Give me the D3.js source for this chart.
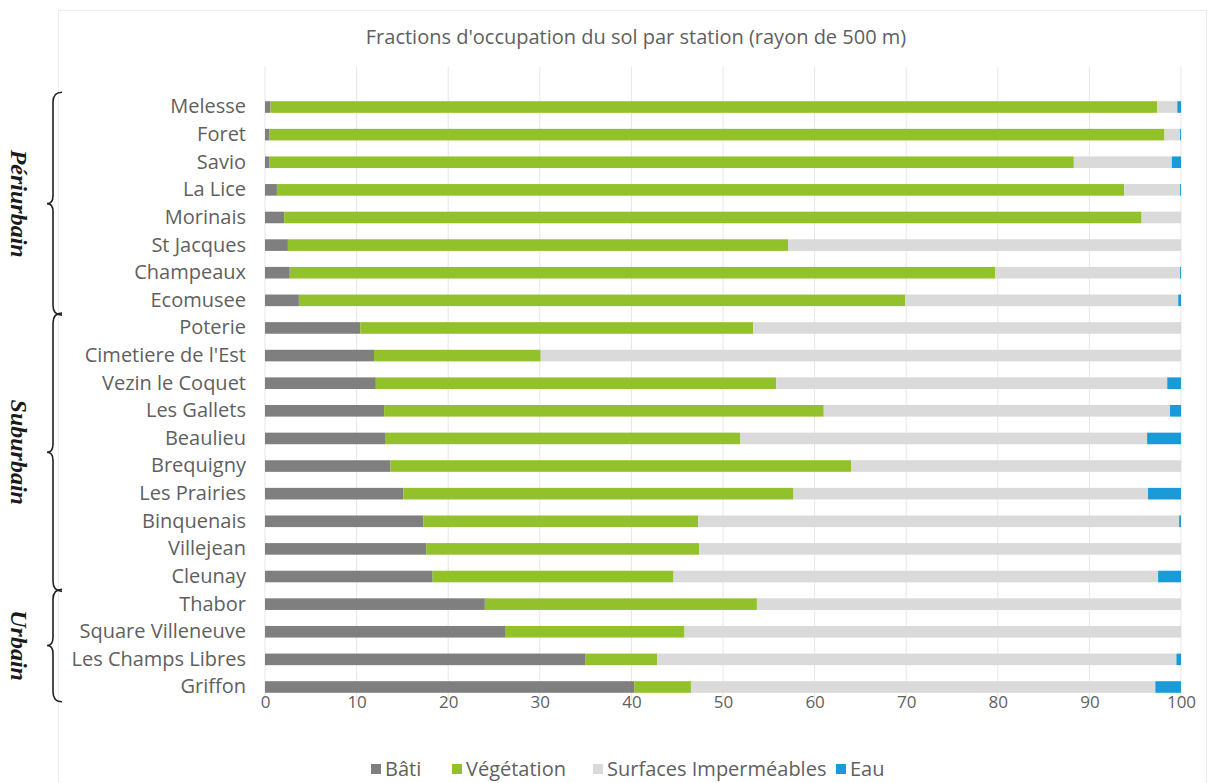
<!DOCTYPE html>
<html>
<head>
<meta charset="utf-8">
<script src="https://cdn.jsdelivr.net/npm/d3@7"></script>
<style>
body { margin: 0; background: #fff; }
text { font-family: "Open Sans", Lato, sans-serif; fill: #5f5f5f; }
</style>
</head>
<body>
<div id="chart"></div>
<script>
// stations, top to bottom
var stations = ["Melesse", "Foret", "Savio", "La Lice", "Morinais", "St Jacques", "Champeaux", "Ecomusee",
  "Poterie", "Cimetiere de l'Est", "Vezin le Coquet", "Les Gallets", "Beaulieu", "Brequigny", "Les Prairies",
  "Binquenais", "Villejean", "Cleunay", "Thabor", "Square Villeneuve", "Les Champs Libres", "Griffon"];

// fractions (%)
var bati = [0.6, 0.5, 0.5, 1.3, 2.1, 2.5, 2.7, 3.7, 10.4, 11.9, 12.1, 13.0, 13.1, 13.7, 15.1, 17.3, 17.6, 18.3, 24.0, 26.2, 35.0, 40.3];
var vegetation = [96.8, 97.7, 87.8, 92.5, 93.6, 54.6, 77.0, 66.2, 42.9, 18.2, 43.7, 48.0, 38.8, 50.3, 42.6, 30.0, 29.8, 26.3, 29.7, 19.6, 7.8, 6.2];
var impermeable = [2.2, 1.7, 10.7, 6.1, 4.3, 42.9, 20.2, 29.8, 46.7, 69.9, 42.7, 37.8, 44.4, 36.0, 38.7, 52.5, 52.6, 52.9, 46.3, 54.2, 56.7, 50.7];
var eau = [0.4, 0.1, 1.0, 0.1, 0, 0, 0.1, 0.3, 0, 0, 1.5, 1.2, 3.7, 0, 3.6, 0.2, 0, 2.5, 0, 0, 0.5, 2.8];

var seriesNames = ["Bâti", "Végétation", "Surfaces Imperméables", "Eau"];
var seriesColors = ["#7f7f7f", "#92c12b", "#dadada", "#1a9bd7"];
var xTicks = [0, 10, 20, 30, 40, 50, 60, 70, 80, 90, 100];

// groups of stations with braces
var groups = [
  {name: "Périurbain", first: "Melesse", last: "Ecomusee"},
  {name: "Suburbain", first: "Poterie", last: "Cleunay"},
  {name: "Urbain", first: "Thabor", last: "Griffon"}
];

var svgWidth = 1214;
var svgHeight = 783;

var svg = d3.select("#chart")
  .append("svg")
  .attr("width", svgWidth)
  .attr("height", svgHeight);

// light frame around the chart
svg.append("rect")
  .attr("x", 58.5).attr("y", 10.5)
  .attr("width", 1148).attr("height", 780)
  .attr("fill", "none")
  .attr("stroke", "#ececec");

var x = d3.scaleLinear().domain([0, 100]).range([265, 1181]);
var y = d3.scaleBand().domain(stations).range([93.2, 700.8]).paddingInner(0.58).paddingOuter(0.29);

// gridlines
svg.append("g")
  .selectAll("line")
  .data(xTicks)
  .enter()
  .append("line")
  .attr("x1", d => x(d)).attr("x2", d => x(d))
  .attr("y1", 67).attr("y2", 701)
  .attr("stroke", "#e6e6e6")
  .attr("stroke-width", 1);

// stack the series
var table = stations.map(function(s, i) {
  return {station: s, "Bâti": bati[i], "Végétation": vegetation[i], "Surfaces Imperméables": impermeable[i], "Eau": eau[i]};
});
var stacked = d3.stack().keys(seriesNames)(table);

svg.append("g")
  .selectAll("g")
  .data(stacked)
  .enter()
  .append("g")
  .attr("fill", (d, i) => seriesColors[i])
  .selectAll("rect")
  .data(d => d)
  .enter()
  .append("rect")
  .attr("x", d => x(d[0]))
  .attr("y", d => y(d.data.station))
  .attr("width", d => Math.max(0, x(d[1]) - x(d[0])))
  .attr("height", y.bandwidth());

// x axis (labels only)
var bottomAxis = d3.axisBottom(x).tickValues(xTicks).tickSize(0).tickPadding(0);
var xAxis = svg.append("g")
  .attr("transform", "translate(0, 696)")
  .call(bottomAxis);
xAxis.select(".domain").remove();
xAxis.selectAll("text")
  .style("font-family", "'Open Sans', sans-serif")
  .style("font-size", "17px")
  .attr("fill", "#5f5f5f");

// station labels
var leftAxis = d3.axisLeft(y).tickSize(0).tickPadding(0);
var yAxis = svg.append("g")
  .attr("transform", "translate(246, 0)")
  .call(leftAxis);
yAxis.select(".domain").remove();
yAxis.selectAll("text")
  .style("font-family", "'Open Sans', sans-serif")
  .style("font-size", "20px")
  .attr("fill", "#5f5f5f");

// title
svg.append("text")
  .attr("x", 636).attr("y", 44)
  .attr("text-anchor", "middle")
  .style("font-size", "20px")
  .text("Fractions d'occupation du sol par station (rayon de 500 m)");

// braces and group names
function bracePath(top, bottom) {
  var mid = (top + bottom) / 2;
  var xe = 62, xl = 53, xt = 47;
  return "M" + xe + "," + top +
    " Q" + xl + "," + top + " " + xl + "," + (top + 10) +
    " L" + xl + "," + (mid - 8) +
    " Q" + xl + "," + mid + " " + xt + "," + mid +
    " Q" + xl + "," + mid + " " + xl + "," + (mid + 8) +
    " L" + xl + "," + (bottom - 10) +
    " Q" + xl + "," + bottom + " " + xe + "," + bottom;
}

var half = y.step() / 2;
groups.forEach(function(g) {
  var top = y(g.first) + y.bandwidth() / 2 - half - 1;
  var bottom = y(g.last) + y.bandwidth() / 2 + half + 1;
  svg.append("path")
    .attr("d", bracePath(top, bottom))
    .attr("fill", "none")
    .attr("stroke", "#222")
    .attr("stroke-width", 1.6);
  svg.append("text")
    .attr("transform", "translate(11," + ((top + bottom) / 2) + ") rotate(90)")
    .attr("text-anchor", "middle")
    .style("font-family", "'Liberation Serif', serif")
    .style("font-weight", "bold")
    .style("font-style", "italic")
    .style("font-size", "24px")
    .style("fill", "#1a1a1a")
    .text(g.name);
});

// legend
var legendX = [371, 452, 593, 836];
var legend = svg.append("g");
seriesNames.forEach(function(name, i) {
  legend.append("rect")
    .attr("x", legendX[i]).attr("y", 764)
    .attr("width", 10).attr("height", 10)
    .attr("fill", seriesColors[i]);
  legend.append("text")
    .attr("x", legendX[i] + 14).attr("y", 776)
    .style("font-size", "20px")
    .text(name);
});
</script>
</body>
</html>
